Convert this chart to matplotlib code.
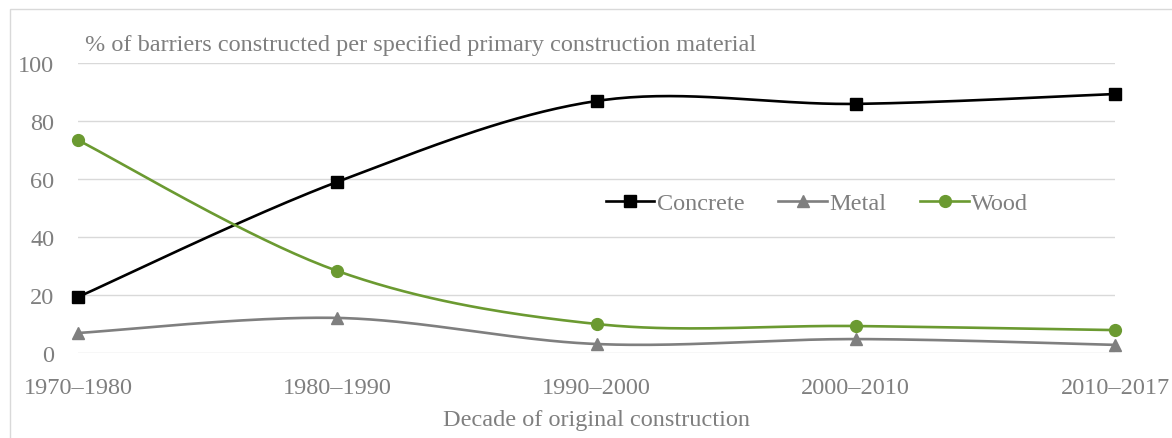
import numpy as np
import matplotlib.pyplot as plt
from matplotlib.lines import Line2D
from matplotlib.patches import Rectangle

decades = ['1970–1980', '1980–1990', '1990–2000', '2000–2010', '2010–2017']
concrete = [19.3, 59.0, 86.9, 85.9, 89.3]
metal = [6.9, 12.1, 3.1, 4.8, 2.8]
wood = [73.4, 28.3, 10.0, 9.3, 7.9]

grey = '#7f7f7f'
green = '#6b9a31'
fs = 17.5
plt.rcParams['font.family'] = ['Liberation Serif', 'DejaVu Serif']


def smooth(xs, ys, sx=259.0, sy=2.9, n=40):
    # Excel-style smoothed line: bezier segments with 1/6 tangents
    p = np.column_stack([np.asarray(xs, float) * sx, np.asarray(ys, float) * sy])
    pad = np.vstack([p[0], p, p[-1]])
    out = []
    t = np.linspace(0, 1, n)[:, None]
    for i in range(len(p) - 1):
        p0, p3 = pad[i + 1], pad[i + 2]
        c1 = p0 + (pad[i + 2] - pad[i]) / 6
        c2 = p3 - (pad[i + 3] - pad[i + 1]) / 6
        seg = ((1 - t) ** 3) * p0 + 3 * ((1 - t) ** 2) * t * c1 + 3 * (1 - t) * t ** 2 * c2 + t ** 3 * p3
        out.append(seg if i == 0 else seg[1:])
    out = np.vstack(out)
    return out[:, 0] / sx, out[:, 1] / sy


fig = plt.figure(figsize=(11.72, 4.39), dpi=100)
ax = fig.add_axes([78 / 1172, 85 / 439, (1115 - 78) / 1172, 290 / 439])

x = np.arange(len(decades))
series = [('Concrete', concrete, 'black', 's'),
          ('Metal', metal, grey, '^'),
          ('Wood', wood, green, 'o')]
handles = []
for name, vals, col, mk in series:
    sx, sy = smooth(x, vals)
    ax.plot(sx, sy, color=col, lw=1.9, clip_on=False, zorder=3)
    ax.plot(x, vals, ls='none', marker=mk, color=col, ms=8.5, clip_on=False, zorder=4)
    handles.append(Line2D([], [], color=col, lw=1.9, marker=mk, ms=8.5))

ax.set_xlim(0, 4)
ax.set_ylim(0, 100)
ax.set_yticks([0, 20, 40, 60, 80, 100])
ax.set_xticks(x)
ax.set_xticklabels(decades)
ax.grid(axis='y', color='#d9d9d9', lw=1)
ax.set_axisbelow(True)
for s in ax.spines.values():
    s.set_visible(False)
ax.tick_params(length=0, labelsize=fs, labelcolor=grey)
ax.tick_params(axis='y', pad=17)
ax.tick_params(axis='x', pad=17)

ax.set_xlabel('Decade of original construction', fontsize=fs, color=grey, labelpad=8)
fig.text(85 / 1172, 1 - 45 / 439, '% of barriers constructed per specified primary construction material',
         fontsize=fs, color=grey, va='center', ha='left')

leg = ax.legend(handles, [s[0] for s in series], ncol=3, frameon=False, fontsize=fs,
                loc='center', bbox_to_anchor=((817 - 78) / 1037, (354 - 204) / 290),
                handlelength=2.0, handletextpad=0.1, columnspacing=1.4)
for t in leg.get_texts():
    t.set_color(grey)

fig.patches.append(Rectangle((10 / 1172, -0.1), 1.2, 1 - 10 / 439 + 0.1, transform=fig.transFigure,
                             fill=False, edgecolor='#d9d9d9', lw=1))

fig.savefig('out.png', dpi=100)
